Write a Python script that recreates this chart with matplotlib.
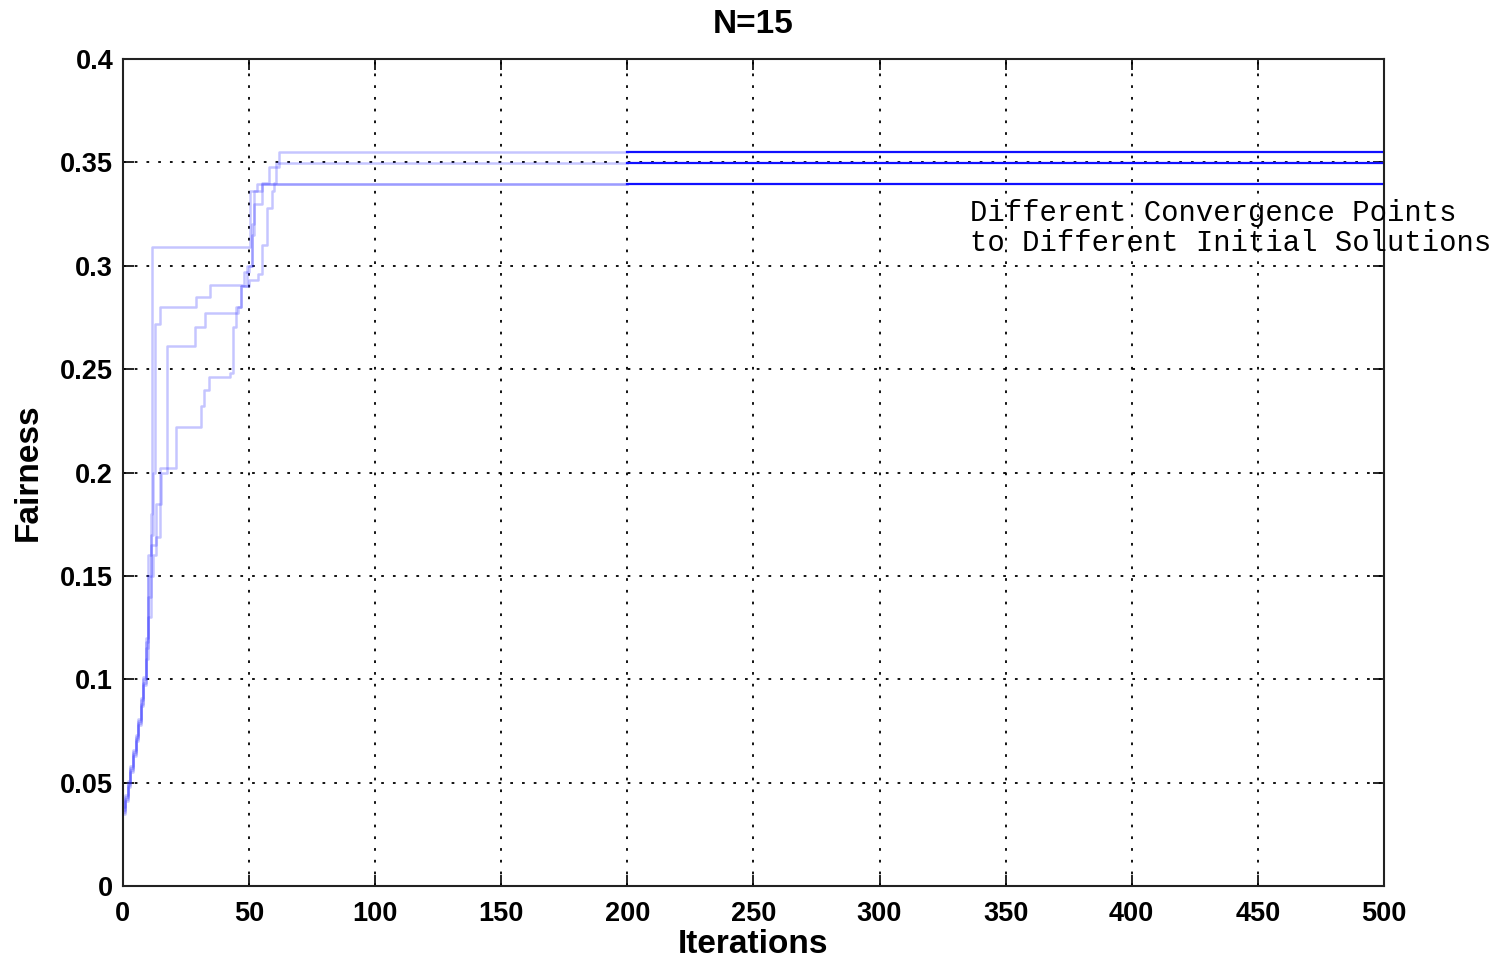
import numpy as np
import matplotlib
matplotlib.use("Agg")
import matplotlib.pyplot as plt

# runs: iteration breakpoints and fairness values (held until next breakpoint)
run_a_iter = [0, 1, 2, 3, 4, 5, 6, 7, 8, 9, 10, 11, 11.5, 50.4, 53, 200]
run_a_val = [0.037, 0.043, 0.050, 0.057, 0.065, 0.072, 0.080, 0.090, 0.100, 0.120, 0.160, 0.180, 0.309, 0.336, 0.3394, 0.3394]

run_b_iter = [0, 1, 2, 3, 4, 5, 6, 7, 8, 9, 10, 11, 12, 12.7, 14.7, 29, 34.5, 48, 50, 51, 52, 55, 200]
run_b_val = [0.036, 0.042, 0.049, 0.056, 0.064, 0.071, 0.079, 0.088, 0.098, 0.115, 0.150, 0.170, 0.200, 0.272, 0.280, 0.285, 0.2905, 0.297, 0.300, 0.320, 0.336, 0.3394, 0.3394]

run_c_iter = [0, 1, 2, 3, 4, 5, 6, 7, 8, 9, 10, 11, 13, 15, 17.3, 28.5, 32.5, 45.7, 47, 49, 51, 52, 55, 58, 62, 200]
run_c_val = [0.038, 0.044, 0.051, 0.058, 0.066, 0.073, 0.081, 0.091, 0.101, 0.118, 0.140, 0.165, 0.185, 0.200, 0.261, 0.2705, 0.277, 0.280, 0.290, 0.300, 0.315, 0.330, 0.340, 0.348, 0.3552, 0.3552]

run_d_iter = [0, 1, 2, 3, 4, 5, 6, 7, 8, 9, 10, 11, 12, 13, 14.5, 21, 31, 32, 34, 42.4, 43.7, 45, 47, 50, 53.7, 55, 57, 59, 60, 60.5, 200]
run_d_val = [0.035, 0.041, 0.048, 0.055, 0.063, 0.070, 0.078, 0.087, 0.097, 0.110, 0.130, 0.150, 0.160, 0.169, 0.202, 0.222, 0.232, 0.240, 0.2463, 0.248, 0.2705, 0.280, 0.290, 0.293, 0.296, 0.310, 0.328, 0.336, 0.340, 0.3499, 0.3499]

# converged values, iterations 200..500
final_iter = [200, 500]
final_vals = [0.3552, 0.3499, 0.3394]

x_ticks = [0, 50, 100, 150, 200, 250, 300, 350, 400, 450, 500]
y_ticks = [0, 0.05, 0.1, 0.15, 0.2, 0.25, 0.3, 0.35, 0.4]
y_tick_labels = ["0", "0.05", "0.1", "0.15", "0.2", "0.25", "0.3", "0.35", "0.4"]

plt.rcParams['font.family'] = ['Liberation Sans', 'DejaVu Sans']

fig = plt.figure(figsize=(15.01, 9.61), dpi=100)
ax = fig.add_axes([0.0819, 0.078, 0.8401, 0.8606])

runs = [(run_a_iter, run_a_val), (run_b_iter, run_b_val),
        (run_c_iter, run_c_val), (run_d_iter, run_d_val)]
for it, val in runs:
    ax.plot(it, val, drawstyle='steps-post', color='#3030ff', alpha=0.28, lw=1.8)

for v in final_vals:
    ax.plot(final_iter, [v, v], color='#1010ff', lw=1.6)

ax.set_xlim(0, 500)
ax.set_ylim(0, 0.4)
ax.set_xticks(x_ticks)
ax.set_yticks(y_ticks)
ax.set_yticklabels(y_tick_labels)
ax.tick_params(direction='in', length=8, width=1.2, top=True, right=True,
               labelsize=19.5, pad=7)
ax.tick_params(axis='x', pad=11)
for lab in ax.get_xticklabels() + ax.get_yticklabels():
    lab.set_fontweight('bold')

ax.grid(True, color='black', linestyle=(0, (1.5, 5)), lw=1.3)
for s in ax.spines.values():
    s.set_linewidth(1.5)
    s.set_color('#222222')

ax.set_title("N=15", fontsize=24, fontweight='bold', pad=19)
ax.set_xlabel("Iterations", fontsize=24, fontweight='bold')
ax.set_ylabel("Fairness", fontsize=24, fontweight='bold')
ax.xaxis.set_label_coords(0.5, -0.052)
ax.yaxis.set_label_coords(-0.063, 0.5)

ax.text(336, 0.3322, "Different Convergence Points\nto Different Initial Solutions",
        family=['Liberation Mono', 'DejaVu Sans Mono'], fontsize=20.8,
        ha='left', va='top', linespacing=1.07, clip_on=False)

fig.savefig("out.png", dpi=100)
